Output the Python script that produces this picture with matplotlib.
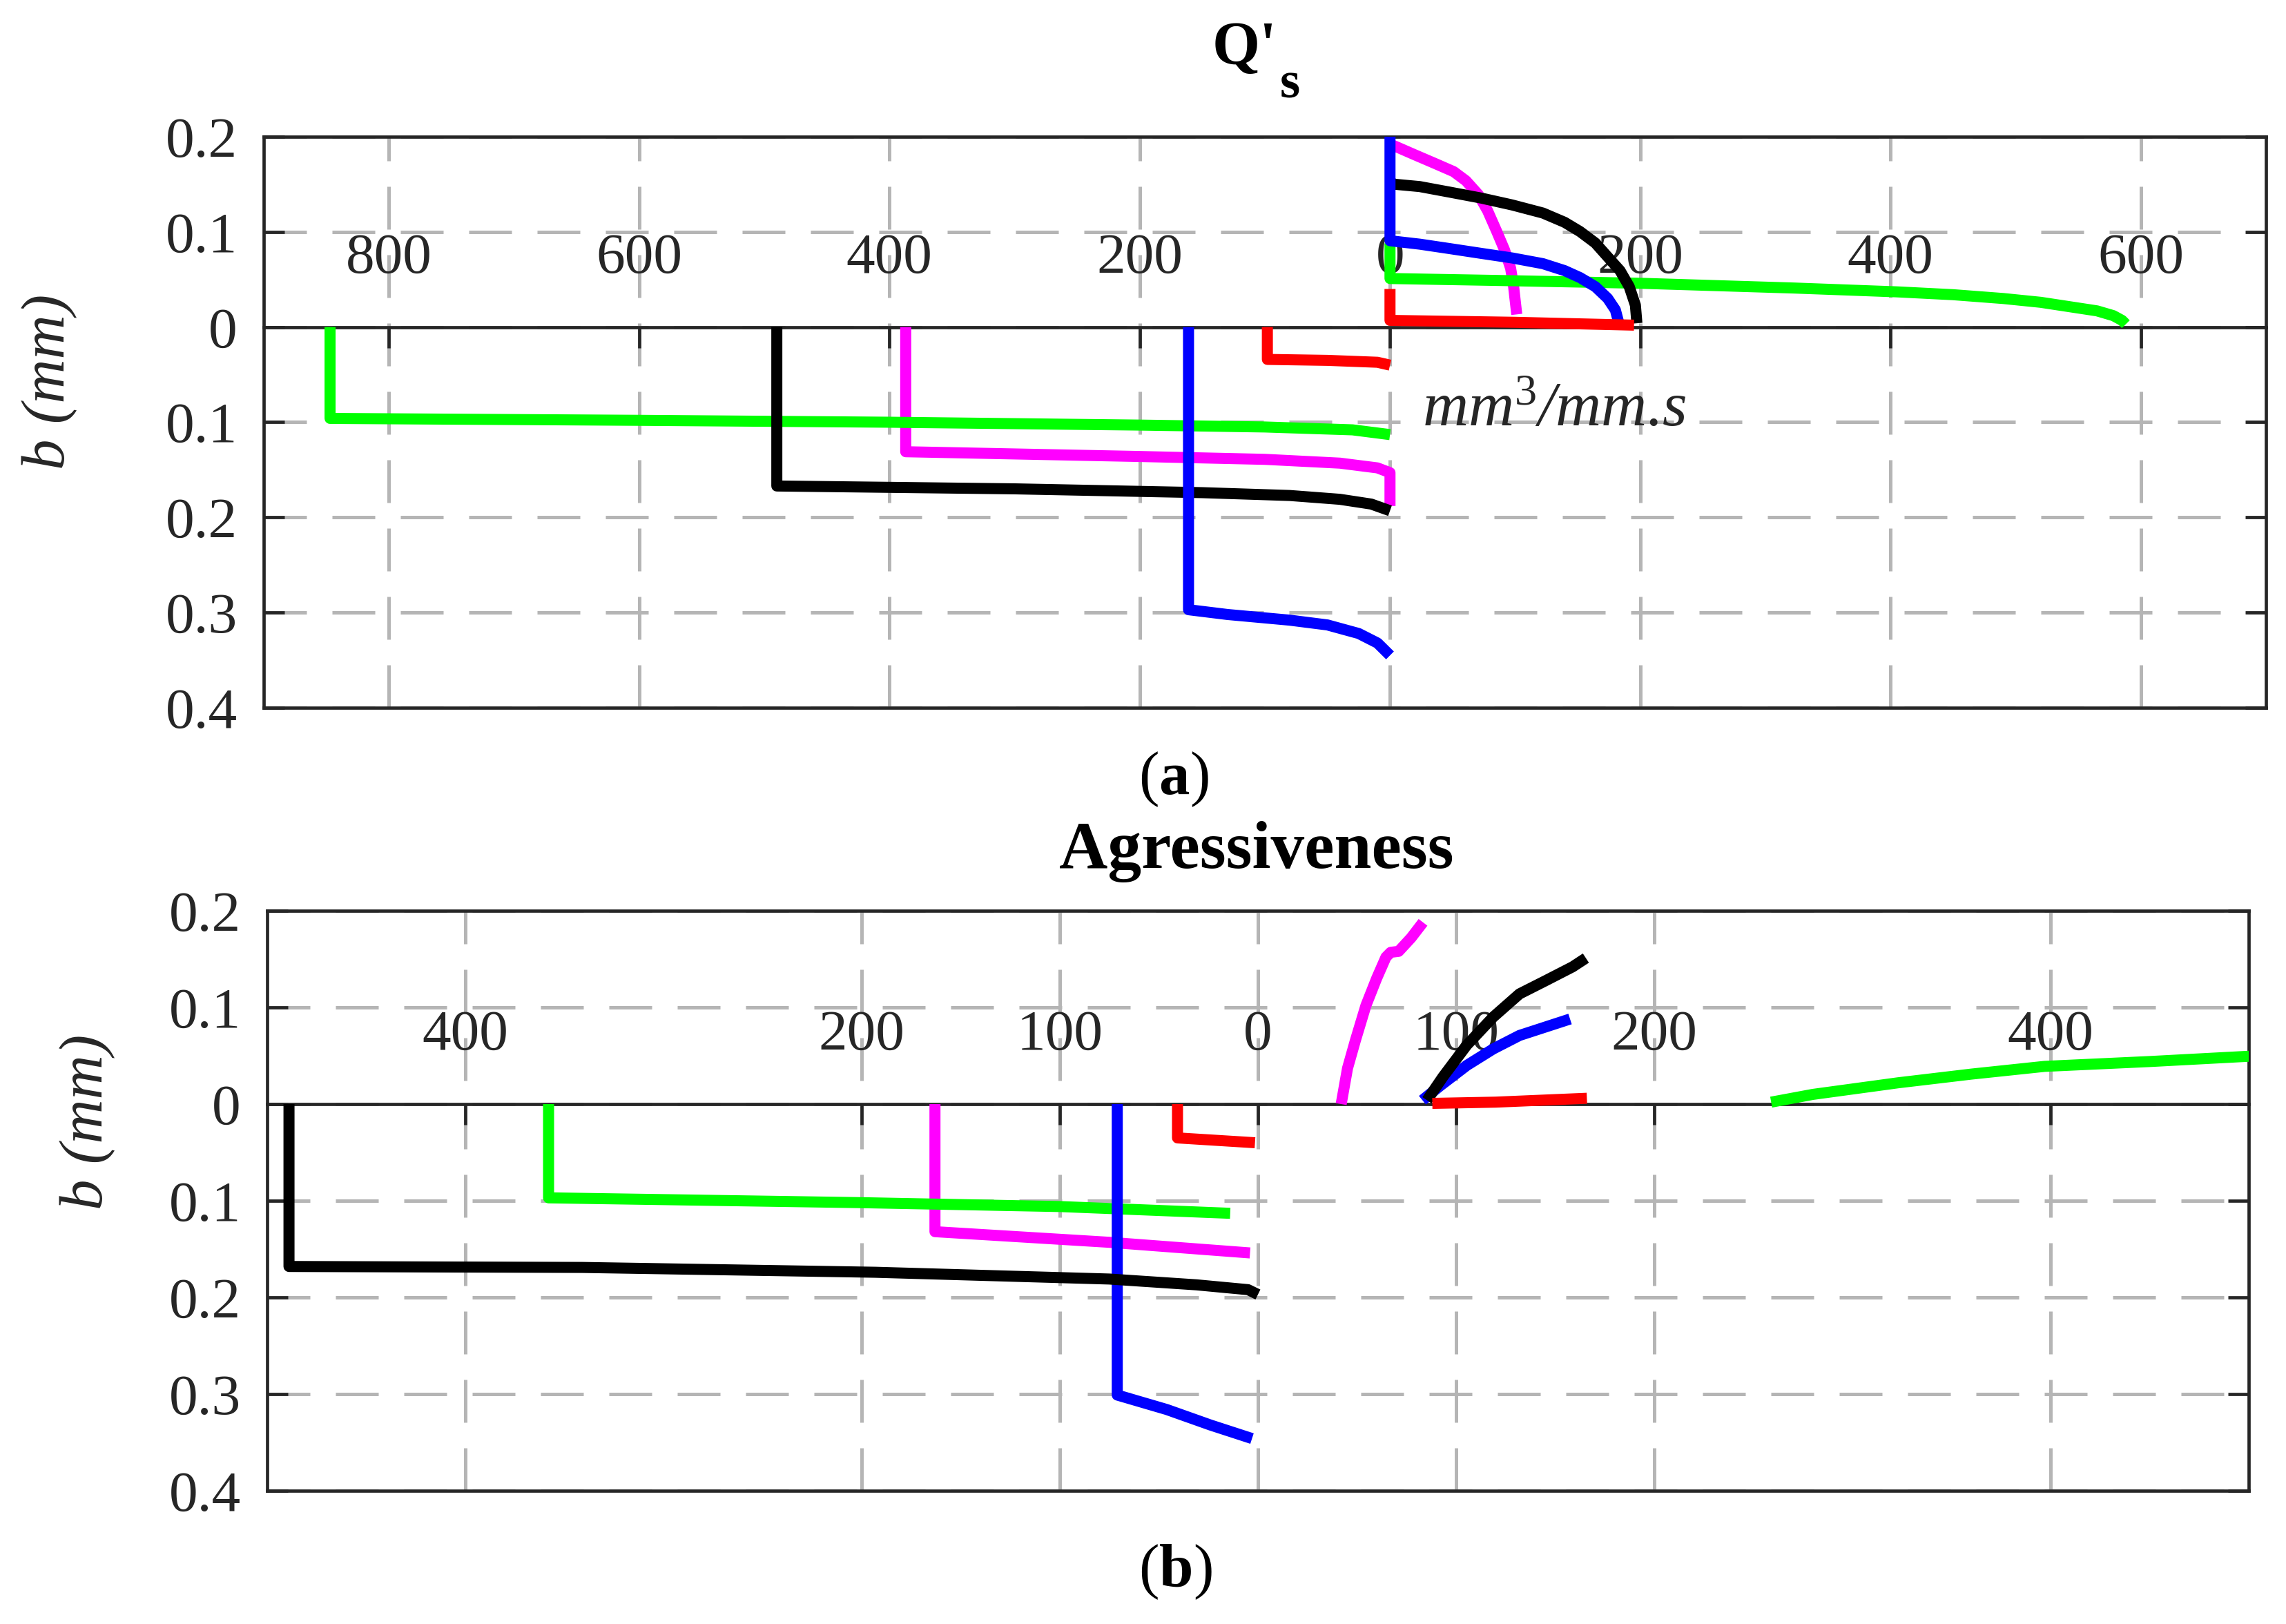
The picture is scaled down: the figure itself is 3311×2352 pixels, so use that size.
import matplotlib
matplotlib.use('Agg')
import matplotlib.pyplot as plt

plt.rcParams['font.family'] = ['Liberation Serif', 'DejaVu Serif']
plt.rcParams['mathtext.fontset'] = 'custom'
plt.rcParams['mathtext.rm'] = 'Liberation Serif'
plt.rcParams['mathtext.it'] = 'Liberation Serif:italic'
plt.rcParams['mathtext.bf'] = 'Liberation Serif:bold'

# ---------------- data ----------------
y_ticks = [-0.4, -0.3, -0.2, -0.1, 0, 0.1, 0.2]
y_ticklabels = ['0.4', '0.3', '0.2', '0.1', '0', '0.1', '0.2']

# panel (a): Q's
a_xticks = [-800, -600, -400, -200, 0, 200, 400, 600]
a_xticklabels = ['800', '600', '400', '200', '0', '200', '400', '600']

a_magenta_neg_x = [-387, -387, -200, -100, -40, -10, 0, 0]
a_magenta_neg_y = [0, -0.131, -0.136, -0.139, -0.143, -0.148, -0.153, -0.188]
a_magenta_pos_x = [0, 4.1, 18.9, 36.1, 50.9, 60.7, 70.6, 78.0, 85.3, 91.5, 96.4, 98.8, 101.3]
a_magenta_pos_y = [0.192, 0.190, 0.1815, 0.1718, 0.1633, 0.1537, 0.1392, 0.1222, 0.1004,
                   0.0811, 0.0617, 0.0423, 0.0133]

a_green_neg_x = [-847, -847, -600, -400, -200, -100, -30, 0]
a_green_neg_y = [0, -0.096, -0.098, -0.100, -0.103, -0.105, -0.108, -0.113]
a_green_pos_x = [0, 0, 85, 200, 323, 405, 450, 490, 520, 545, 565, 578, 585, 588]
a_green_pos_y = [0.088, 0.051, 0.049, 0.046, 0.041, 0.037, 0.034, 0.030, 0.026, 0.021,
                 0.017, 0.012, 0.007, 0.003]

a_black_neg_x = [-490, -490, -300, -150, -80, -40, -15, 0]
a_black_neg_y = [0, -0.167, -0.170, -0.174, -0.177, -0.181, -0.186, -0.193]
a_black_pos_x = [0, 4.1, 23.8, 48.4, 73.0, 97.6, 122.2, 139.5, 151.8, 164.1, 173.9,
                 183.8, 191.2, 196.1, 197.3]
a_black_pos_y = [0.152, 0.150, 0.1476, 0.1416, 0.1355, 0.1283, 0.1198, 0.1101, 0.1004,
                 0.0883, 0.0738, 0.0593, 0.0424, 0.023, 0.004]

a_blue_neg_x = [-161, -161, -130, -80, -50, -25, -10, 0]
a_blue_neg_y = [0, -0.297, -0.302, -0.308, -0.313, -0.322, -0.332, -0.345]
a_blue_pos_x = [0, 0, 23.8, 48.4, 73.0, 97.6, 122.2, 139.5, 151.8, 164.1, 173.9, 180.1, 182.5]
a_blue_pos_y = [0.2, 0.0907, 0.0871, 0.0823, 0.0774, 0.0726, 0.0666, 0.0593, 0.052,
                0.0424, 0.0302, 0.018, 0.006]

a_red_neg_x = [-98, -98, -50, -10, 0]
a_red_neg_y = [0, -0.034, -0.035, -0.037, -0.040]
a_red_pos_x = [0, 0, 100, 195]
a_red_pos_y = [0.040, 0.007, 0.005, 0.002]

# panel (b): Agressiveness
b_xticks = [-400, -200, -100, 0, 100, 200, 400]
b_xticklabels = ['400', '200', '100', '0', '100', '200', '400']

b_magenta_neg_x = [-163, -163, -75, -4]
b_magenta_neg_y = [0, -0.132, -0.143, -0.154]
b_magenta_pos_x = [42, 45.2, 49.2, 54.5, 59.9, 64.6, 67, 71, 77.3, 83.3]
b_magenta_pos_y = [0, 0.037, 0.066, 0.102, 0.130, 0.152, 0.157, 0.158, 0.172, 0.188]

b_green_neg_x = [-358, -358, -200, -100, -14]
b_green_neg_y = [0, -0.097, -0.102, -0.106, -0.113]
b_green_pos_x = [259, 280, 323, 360, 397, 450, 505]
b_green_pos_y = [0.002, 0.010, 0.022, 0.031, 0.039, 0.044, 0.050]

b_blue_neg_x = [-71, -71, -46, -24, -3]
b_blue_neg_y = [0, -0.301, -0.316, -0.332, -0.346]
b_blue_pos_x = [83, 92, 105.4, 118.7, 132, 145.5, 157.5]
b_blue_pos_y = [0.004, 0.019, 0.040, 0.057, 0.071, 0.080, 0.088]

b_black_neg_x = [-489, -489, -341, -193, -75, -31, -5, 0]
b_black_neg_y = [0, -0.168, -0.169, -0.174, -0.181, -0.187, -0.192, -0.197]
b_black_pos_x = [85.3, 93.3, 105.4, 118.7, 132, 145.5, 158.8, 165.5]
b_black_pos_y = [0.004, 0.028, 0.061, 0.090, 0.114, 0.128, 0.142, 0.151]

b_red_neg_x = [-40.6, -40.6, -1.5]
b_red_neg_y = [0, -0.035, -0.040]
b_red_pos_x = [88, 120, 166]
b_red_pos_y = [0.0007, 0.002, 0.006]

# ---------------- styling ----------------
DPI = 200
W, H = 3312, 2352
PT = 72.0 / DPI          # points per pixel
AX_COL = '#262626'
GRID_COL = '#b5b5b5'
LW_DATA = 16 * PT
LW_AX = 4.7 * PT
LW_GRID = 5 * PT
GRID_LS = (0, (62 / 5.0, 37 / 5.0))
TICK_LEN = 30 * PT
TICK_FS = 30

fig = plt.figure(figsize=(W / DPI, H / DPI), dpi=DPI)


def make_panel(rect, xlim, xticks, xticklabels, series):
    ax = fig.add_axes(rect)
    ax.set_xlim(*xlim)
    ax.set_ylim(-0.4, 0.2)
    for xs, ys, col in series:
        ax.plot(xs, ys, color=col, lw=LW_DATA, solid_capstyle='butt',
                solid_joinstyle='round', zorder=3)
    ax.set_xticks(xticks)
    ax.set_xticklabels([])
    ax.tick_params(axis='x', length=0)
    ax.set_yticks(y_ticks)
    ax.set_yticklabels(y_ticklabels)
    ax.tick_params(axis='y', left=True, right=True, direction='in',
                   length=TICK_LEN, width=LW_AX, color=AX_COL,
                   labelsize=TICK_FS, labelcolor=AX_COL, pad=38 * PT)
    ax.grid(True, color=GRID_COL, lw=LW_GRID, ls=GRID_LS)
    ax.set_axisbelow(True)
    for s in ax.spines.values():
        s.set_linewidth(LW_AX)
        s.set_color(AX_COL)
    # x axis drawn through y = 0 (ticks pointing down, labels above)
    frac = (0 - (-0.4)) / 0.6
    sec = ax.secondary_xaxis(frac)
    sec.set_zorder(2)
    sec.set_xticks(xticks)
    sec.set_xticklabels(xticklabels)
    sec.tick_params(axis='x', direction='in', length=TICK_LEN, width=LW_AX,
                    color=AX_COL, labelsize=TICK_FS, labelcolor=AX_COL,
                    pad=22)
    for s in sec.spines.values():
        s.set_linewidth(LW_AX)
        s.set_color(AX_COL)
    return ax


def fx(px):
    return px / W


def fy(py):
    return 1 - py / H


# panel (a)
series_a = [
    (a_magenta_neg_x, a_magenta_neg_y, '#ff00ff'),
    (a_magenta_pos_x, a_magenta_pos_y, '#ff00ff'),
    (a_green_neg_x, a_green_neg_y, '#00ff00'),
    (a_green_pos_x, a_green_pos_y, '#00ff00'),
    (a_black_neg_x, a_black_neg_y, '#000000'),
    (a_black_pos_x, a_black_pos_y, '#000000'),
    (a_blue_neg_x, a_blue_neg_y, '#0000ff'),
    (a_blue_pos_x, a_blue_pos_y, '#0000ff'),
    (a_red_neg_x, a_red_neg_y, '#ff0000'),
    (a_red_pos_x, a_red_pos_y, '#ff0000'),
]
ax_a = make_panel([fx(382), fy(1025), fx(3282) - fx(382), fy(198) - fy(1025)],
                  (-900, 700), a_xticks, a_xticklabels, series_a)
ax_a.text(26, -0.1038, r'mm$^{\mathit{3}}$/mm.s', fontsize=33, style='italic',
          color=AX_COL, ha='left', va='baseline', zorder=4)

# panel (b)
series_b = [
    (b_magenta_neg_x, b_magenta_neg_y, '#ff00ff'),
    (b_magenta_pos_x, b_magenta_pos_y, '#ff00ff'),
    (b_green_neg_x, b_green_neg_y, '#00ff00'),
    (b_green_pos_x, b_green_pos_y, '#00ff00'),
    (b_blue_neg_x, b_blue_neg_y, '#0000ff'),
    (b_blue_pos_x, b_blue_pos_y, '#0000ff'),
    (b_black_neg_x, b_black_neg_y, '#000000'),
    (b_black_pos_x, b_black_pos_y, '#000000'),
    (b_red_neg_x, b_red_neg_y, '#ff0000'),
    (b_red_pos_x, b_red_pos_y, '#ff0000'),
]
ax_b = make_panel([fx(387), fy(2159), fx(3257) - fx(387), fy(1319) - fy(2159)],
                  (-500, 500), b_xticks, b_xticklabels, series_b)

# y labels
fig.text(fx(72), fy(553), 'b (mm)', rotation=90, style='italic', fontsize=32,
         color=AX_COL, ha='center', va='center')
fig.text(fx(127), fy(1625), 'b (mm)', rotation=90, style='italic', fontsize=32,
         color=AX_COL, ha='center', va='center')

# titles
fig.text(fx(1756), fy(92), "Q'", fontsize=32, fontweight='bold', color='black',
         ha='left', va='baseline')
fig.text(fx(1854), fy(142), "s", fontsize=27, fontweight='bold', color='black',
         ha='left', va='baseline')
fig.text(fx(1820), fy(1257), 'Agressiveness', fontsize=35, fontweight='bold',
         color='black', ha='center', va='baseline')

# captions
fig.text(fx(1700), fy(1150), r'($\mathbf{a}$)', fontsize=32, color='black',
         ha='center', va='baseline')
fig.text(fx(1702), fy(2298), r'($\mathbf{b}$)', fontsize=32, color='black',
         ha='center', va='baseline')

fig.savefig('out.png', dpi=DPI)
